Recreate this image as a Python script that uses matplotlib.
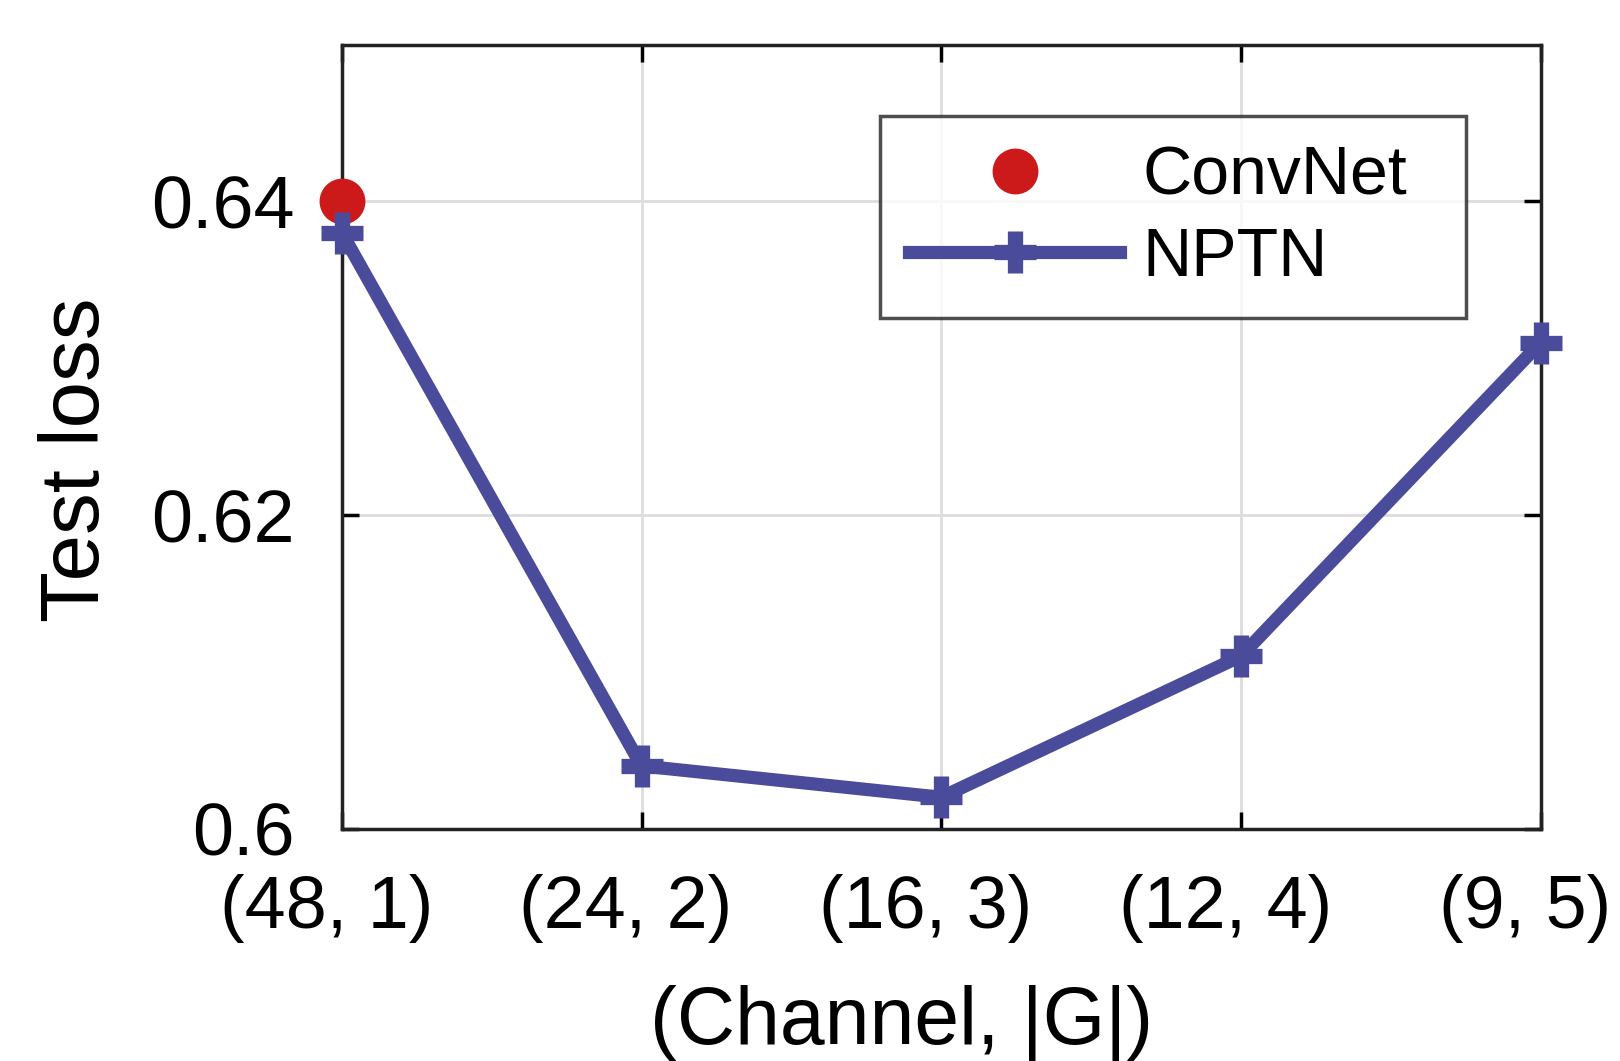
import matplotlib
matplotlib.use("Agg")
import matplotlib.pyplot as plt
import matplotlib.transforms as mtransforms

categories = ["(48, 1)", "(24, 2)", "(16, 3)", "(12, 4)", "(9, 5)"]
nptn_loss = [0.638, 0.604, 0.602, 0.611, 0.631]
convnet_loss = [0.640]
yticks = [0.6, 0.62, 0.64]
ytick_labels = ["0.6", "0.62", "0.64"]

plt.rcParams['font.family'] = ['Liberation Sans', 'DejaVu Sans']

fig = plt.figure(figsize=(16.2, 10.61), dpi=100)
ax = fig.add_axes([0.211, 0.219, 0.740, 0.739])

x = list(range(len(categories)))
ax.plot([x[0]], convnet_loss, linestyle='none', marker='o', markersize=32,
        color='#CC1A1A', label='ConvNet', zorder=3, clip_on=False)
ax.plot(x, nptn_loss, color='#4B4B9C', linewidth=9.5, marker='+', markersize=30,
        markeredgewidth=11, label='NPTN', zorder=4, clip_on=False)

ax.set_xlim(0, 4)
ax.set_ylim(0.6, 0.65)
ax.set_xticks(x)
ax.set_xticklabels(categories)
ax.set_yticks(yticks)
ax.set_yticklabels(ytick_labels)
ax.tick_params(axis='both', direction='in', length=12, width=2.5, labelsize=53,
               top=True, right=True)
ax.tick_params(axis='x', pad=33)
ax.tick_params(axis='y', pad=34)
ax.grid(True, color='#DDDDDD', linewidth=2)
ax.set_axisbelow(True)
for s in ax.spines.values():
    s.set_linewidth(2.5)
    s.set_color('#222222')

shift = mtransforms.ScaledTranslation(-0.155, 0, fig.dpi_scale_trans)
for lbl in ax.get_xticklabels():
    lbl.set_transform(lbl.get_transform() + shift)

ax.set_xlabel("(Channel, |G|)", fontsize=58, labelpad=30)
ax.xaxis.label.set_x(0.467)
ax.set_ylabel("Test loss", fontsize=60, labelpad=25)
ax.yaxis.label.set_y(0.471)

leg = ax.legend(loc='upper left', bbox_to_anchor=(0.4493, 0.0, 0.4882, 0.9085),
                mode='expand', fontsize=49,
                frameon=True, fancybox=False, edgecolor='#222222',
                handlelength=3.1, borderpad=0.42, labelspacing=0.25,
                handletextpad=0.33, borderaxespad=0)
leg.get_frame().set_linewidth(2.5)

fig.savefig("out.png", dpi=100)
